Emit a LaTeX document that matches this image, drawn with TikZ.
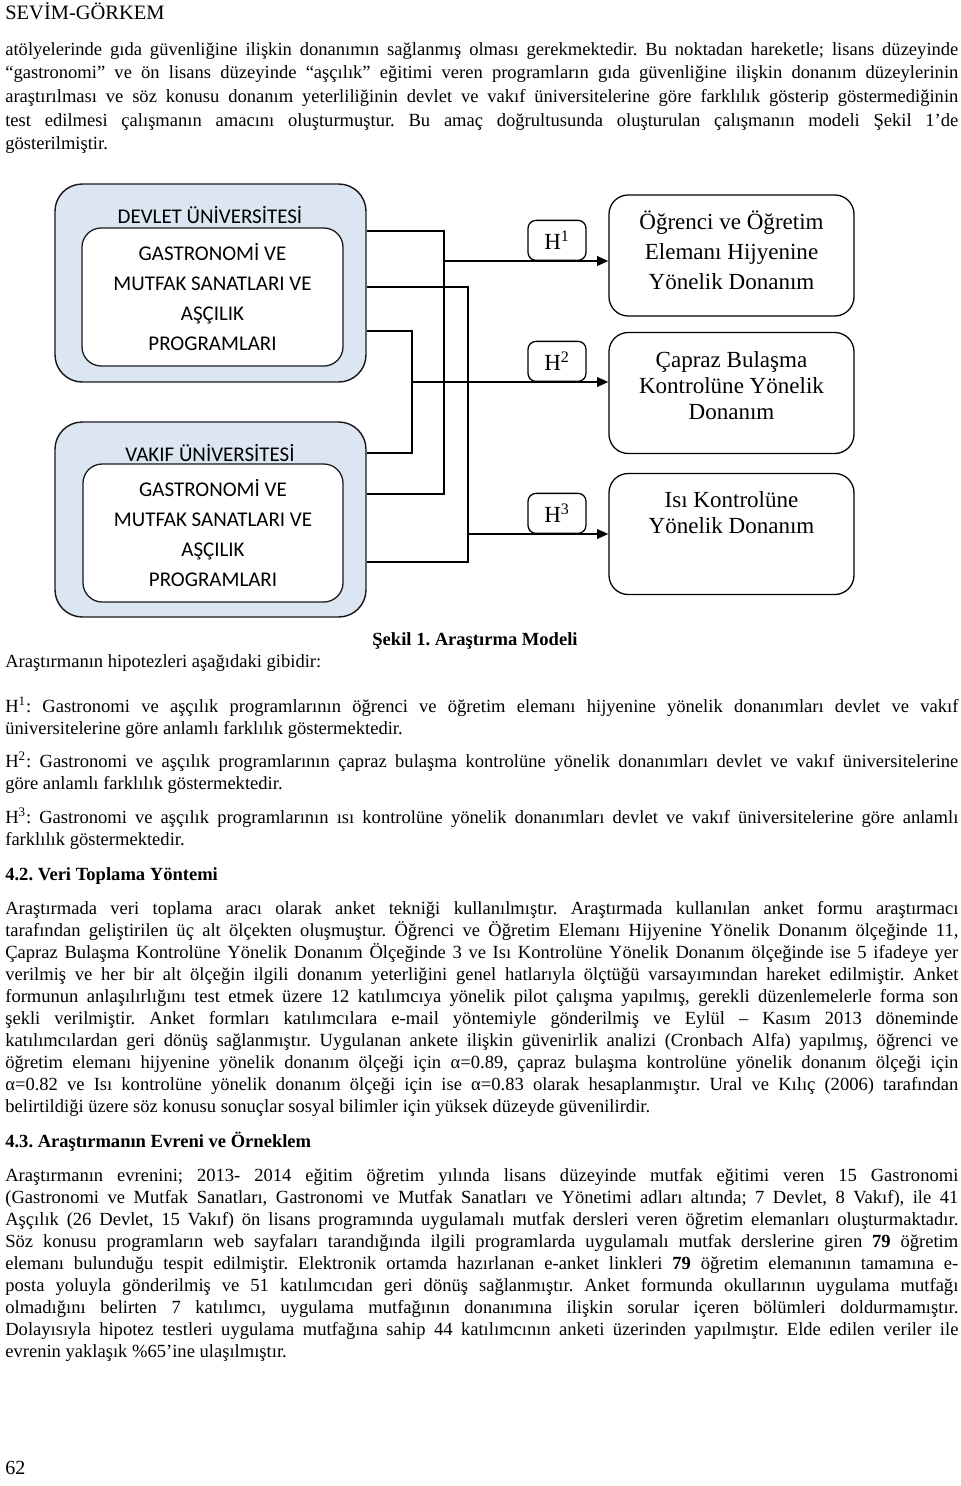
\documentclass[tikz,border=0pt]{standalone}
\usepackage{fontspec}
\setmainfont{Liberation Serif}
\newfontfamily\calibrifont{Carlito}
\usepackage{xcolor}
\definecolor{uniblue}{RGB}{220,230,242}
\usetikzlibrary{positioning}
\usetikzlibrary{arrows.meta}
\frenchspacing
\newcommand{\px}{0.625pt}
\newlength{\textw}
\setlength{\textw}{595.625pt}
\newcommand{\bodyfont}{\fontsize{11.6}{13.81}\selectfont}
\newcommand{\jline}[1]{\makebox[\linewidth][s]{#1}\par}
\newcommand{\boxlines}[1]{\parbox[t]{150pt}{\centering #1}}
\tikzset{
    para/.style={anchor=base west, inner sep=0pt, font=\bodyfont},
    heading/.style={para, font=\bodyfont\bfseries},
    uni/.style={draw=black!90, line width=0.9pt, fill=uniblue, rounded corners=17pt, minimum width=311*\px},
    unititle/.style={inner sep=0pt, font=\calibrifont\fontsize{13.1}{15}\selectfont},
    prog/.style={draw=black!90, line width=0.8pt, fill=white, rounded corners=12pt, inner sep=0pt,
        align=center, font=\calibrifont\fontsize{13.1}{18.75}\selectfont, minimum height=138*\px},
    result/.style={draw, line width=0.8pt, rounded corners=12pt, minimum width=245*\px, minimum height=121*\px},
    resulttext/.style={anchor=base, inner sep=0pt, font=\fontsize{14.4}{16.56}\selectfont},
    hyp/.style={draw, line width=0.8pt, rounded corners=5pt, anchor=south, inner sep=0pt,
        minimum width=58*\px, minimum height=40*\px, font=\fontsize{14.4}{16}\selectfont},
    link/.style={line width=1pt},
    arrow/.style={link, -{Triangle[length=7pt, width=6pt]}}
}

\begin{document}
\begin{tikzpicture}[x=\px, y=-\px]
    \useasboundingbox (0,0) rectangle (960,1486);

    \node[anchor=base west, inner sep=0pt, font=\fontsize{12.8}{14}\selectfont] (header) at (5,20) {SEVİM-GÖRKEM};

    \node[para] (intro) at (5,55) {\parbox[t]{\textw}{\setlength{\baselineskip}{14.84pt}%
        \jline{atölyelerinde gıda güvenliğine ilişkin donanımın sağlanmış olması gerekmektedir. Bu noktadan hareketle; lisans düzeyinde}
        \jline{“gastronomi” ve ön lisans düzeyinde “aşçılık” eğitimi veren programların gıda güvenliğine ilişkin donanım düzeylerinin}
        \jline{araştırılması ve söz konusu donanım yeterliliğinin devlet ve vakıf üniversitelerine göre farklılık gösterip göstermediğinin}
        \jline{test edilmesi çalışmanın amacını oluşturmuştur. Bu amaç doğrultusunda oluşturulan çalışmanın modeli Şekil 1’de}
        gösterilmiştir.}};

    % universities
    \node[uni, minimum height=198*\px] (devlet) at (210.5,283) {};
    \node[unititle] (devlettitle) at (210,215) {DEVLET ÜNİVERSİTESİ};
    \node[prog, minimum width=261*\px] (devletprog) at (212.5,297)
        {GASTRONOMİ VE\\MUTFAK SANATLARI VE\\AŞÇILIK\\PROGRAMLARI};

    \node[uni, minimum height=195*\px] (vakif) at (210.5,519.5) {};
    \node[unititle] (vakiftitle) at (210,453) {VAKIF ÜNİVERSİTESİ};
    \node[prog, minimum width=260*\px] (vakifprog) at (213,533)
        {GASTRONOMİ VE\\MUTFAK SANATLARI VE\\AŞÇILIK\\PROGRAMLARI};

    % equipment
    \node[result] (ogrenci) at (731.5,255.5) {};
    \node[resulttext, font=\fontsize{14.4}{18.75}\selectfont] (ogrencitext) at (731.5,229)
        {\boxlines{Öğrenci ve Öğretim\\Elemanı Hijyenine\\Yönelik Donanım}};
    \node[result] (capraz) at (731.5,393) {};
    \node[resulttext] (caprazttext) at (731.5,367)
        {\boxlines{Çapraz Bulaşma\\Kontrolüne Yönelik\\Donanım}};
    \node[result] (isi) at (731.5,534) {};
    \node[resulttext] (isitext) at (731.5,507)
        {\boxlines{Isı Kontrolüne\\Yönelik Donanım}};

    \node[hyp] (h1) at (557,261) {H\textsuperscript{1}};
    \node[hyp] (h2) at (557,382) {H\textsuperscript{2}};
    \node[hyp] (h3) at (557,534) {H\textsuperscript{3}};

    \coordinate (bus1) at (444,261);
    \coordinate (bus2) at (412,382);
    \coordinate (bus3) at (468,534);

    \draw[link] (devlet.east |- 0,231) -| (bus1) |- (vakif.east |- 0,494);
    \draw[link] (devlet.east |- 0,287) -| (bus3) |- (vakif.east |- 0,562);
    \draw[link] (devlet.east |- 0,331) -| (bus2) |- (vakif.east |- 0,453);
    \draw[arrow] (bus1) -- (ogrenci.west |- bus1);
    \draw[arrow] (bus2) -- (capraz.west |- bus2);
    \draw[arrow] (bus3) -- (isi.west |- bus3);

    \node[heading, anchor=base] (caption) at (475,645) {Şekil 1. Araştırma Modeli};
    \node[para] (hyplead) at (5,667) {Araştırmanın hipotezleri aşağıdaki gibidir:};

    \node[para] (hyp1) at (5,712) {\parbox[t]{\textw}{%
        \jline{H\textsuperscript{1}: Gastronomi ve aşçılık programlarının öğrenci ve öğretim elemanı hijyenine yönelik donanımları devlet ve vakıf}
        üniversitelerine göre anlamlı farklılık göstermektedir.}};
    \node[para] (hyp2) at (5,767) {\parbox[t]{\textw}{%
        \jline{H\textsuperscript{2}: Gastronomi ve aşçılık programlarının çapraz bulaşma kontrolüne yönelik donanımları devlet ve vakıf üniversitelerine}
        göre anlamlı farklılık göstermektedir.}};
    \node[para] (hyp3) at (5,823) {\parbox[t]{\textw}{%
        \jline{H\textsuperscript{3}: Gastronomi ve aşçılık programlarının ısı kontrolüne yönelik donanımları devlet ve vakıf üniversitelerine göre anlamlı}
        farklılık göstermektedir.}};

    \node[heading] (sec42) at (5,880) {4.2. Veri Toplama Yöntemi};
    \node[para] (method) at (5,914) {\parbox[t]{\textw}{%
        \jline{Araştırmada veri toplama aracı olarak anket tekniği kullanılmıştır. Araştırmada kullanılan anket formu araştırmacı}
        \jline{tarafından geliştirilen üç alt ölçekten oluşmuştur. Öğrenci ve Öğretim Elemanı Hijyenine Yönelik Donanım ölçeğinde 11,}
        \jline{Çapraz Bulaşma Kontrolüne Yönelik Donanım Ölçeğinde 3 ve Isı Kontrolüne Yönelik Donanım ölçeğinde ise 5 ifadeye yer}
        \jline{verilmiş ve her bir alt ölçeğin ilgili donanım yeterliğini genel hatlarıyla ölçtüğü varsayımından hareket edilmiştir. Anket}
        \jline{formunun anlaşılırlığını test etmek üzere 12 katılımcıya yönelik pilot çalışma yapılmış, gerekli düzenlemelerle forma son}
        \jline{şekli verilmiştir. Anket formları katılımcılara e-mail yöntemiyle gönderilmiş ve Eylül – Kasım 2013 döneminde}
        \jline{katılımcılardan geri dönüş sağlanmıştır. Uygulanan ankete ilişkin güvenirlik analizi (Cronbach Alfa) yapılmış, öğrenci ve}
        \jline{öğretim elemanı hijyenine yönelik donanım ölçeği için α=0.89, çapraz bulaşma kontrolüne yönelik donanım ölçeği için}
        \jline{α=0.82 ve Isı kontrolüne yönelik donanım ölçeği için ise α=0.83 olarak hesaplanmıştır. Ural ve Kılıç (2006) tarafından}
        belirtildiği üzere söz konusu sonuçlar sosyal bilimler için yüksek düzeyde güvenilirdir.}};

    \node[heading] (sec43) at (5,1147) {4.3. Araştırmanın Evreni ve Örneklem};
    \node[para] (sample) at (5,1181) {\parbox[t]{\textw}{%
        \jline{Araştırmanın evrenini; 2013- 2014 eğitim öğretim yılında lisans düzeyinde mutfak eğitimi veren 15 Gastronomi}
        \jline{(Gastronomi ve Mutfak Sanatları, Gastronomi ve Mutfak Sanatları ve Yönetimi adları altında; 7 Devlet, 8 Vakıf), ile 41}
        \jline{Aşçılık (26 Devlet, 15 Vakıf) ön lisans programında uygulamalı mutfak dersleri veren öğretim elemanları oluşturmaktadır.}
        \jline{Söz konusu programların web sayfaları tarandığında ilgili programlarda uygulamalı mutfak derslerine giren \textbf{79} öğretim}
        \jline{elemanı bulunduğu tespit edilmiştir. Elektronik ortamda hazırlanan e-anket linkleri \textbf{79} öğretim elemanının tamamına e-}
        \jline{posta yoluyla gönderilmiş ve 51 katılımcıdan geri dönüş sağlanmıştır. Anket formunda okullarının uygulama mutfağı}
        \jline{olmadığını belirten 7 katılımcı, uygulama mutfağının donanımına ilişkin sorular içeren bölümleri doldurmamıştır.}
        \jline{Dolayısıyla hipotez testleri uygulama mutfağına sahip 44 katılımcının anketi üzerinden yapılmıştır. Elde edilen veriler ile}
        evrenin yaklaşık \%65’ine ulaşılmıştır.}};

    \node[para, font=\fontsize{12.5}{14}\selectfont] (pagenum) at (5,1474) {62};
\end{tikzpicture}
\end{document}
